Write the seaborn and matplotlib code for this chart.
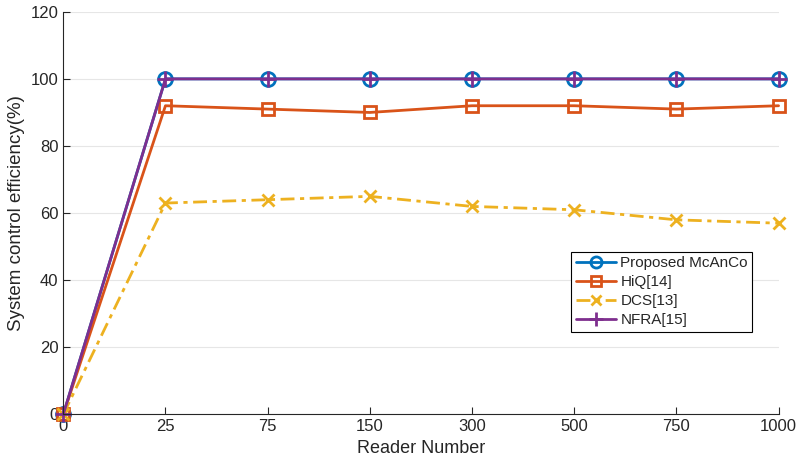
import numpy as np
import pandas as pd
import matplotlib
matplotlib.use("Agg")
import matplotlib.pyplot as plt
import seaborn as sns

readers = ["0", "25", "75", "150", "300", "500", "750", "1000"]
proposed = [0, 100, 100, 100, 100, 100, 100, 100]
hiq = [0, 92, 91, 90, 92, 92, 91, 92]
dcs = [0, 63, 64, 65, 62, 61, 58, 57]
nfra = [0, 100, 100, 100, 100, 100, 100, 100]

sns.set_style("white")
plt.rcParams['font.family'] = ['Liberation Sans', 'DejaVu Sans']

pos = np.arange(len(readers))
series = [
    ("Proposed McAnCo", proposed, "#0072BD", "o", "-", 10),
    ("HiQ[14]", hiq, "#D95319", "s", "-", 9),
    ("DCS[13]", dcs, "#EDB120", "x", (0, (5, 2, 1.5, 2)), 9),
    ("NFRA[15]", nfra, "#7E2F8E", "+", "-", 12),
]

fig, ax = plt.subplots(figsize=(8.01, 4.71), dpi=100)
for name, vals, col, mk, ls, ms in series:
    df = pd.DataFrame({"x": pos, "y": vals})
    sns.lineplot(data=df, x="x", y="y", ax=ax, color=col, marker=mk, linestyle=ls,
                 linewidth=2, markersize=ms, markerfacecolor="none",
                 markeredgecolor=col, markeredgewidth=2, label=name, clip_on=False)

ax.set_xlim(0, len(readers) - 1)
ax.set_ylim(0, 120)
ax.set_xticks(pos)
ax.set_xticklabels(readers)
ax.set_yticks(np.arange(0, 121, 20))
ax.yaxis.grid(True, color="#e6e6e6", linewidth=0.8)
ax.set_axisbelow(True)
for s in ["top", "right"]:
    ax.spines[s].set_visible(False)
for s in ["left", "bottom"]:
    ax.spines[s].set_color("#262626")
    ax.spines[s].set_linewidth(0.8)
ax.tick_params(direction="in", length=5, width=0.8, colors="#262626", labelsize=12,
               left=True, bottom=True)
ax.set_xlabel("Reader Number", fontsize=13, color="#262626")
ax.set_ylabel("System control efficiency(%)", fontsize=13.5, color="#262626")

leg = ax.legend(loc="lower right", bbox_to_anchor=(0.974, 0.187), fontsize=11,
                frameon=True, fancybox=False, edgecolor="black", framealpha=1,
                borderpad=0.3, labelspacing=0.32, handlelength=2.6, handletextpad=0.3,
                markerscale=0.8)
leg.get_frame().set_linewidth(0.8)

plt.subplots_adjust(left=0.079, right=0.972, top=0.975, bottom=0.12)
plt.savefig("out.png", dpi=100)
